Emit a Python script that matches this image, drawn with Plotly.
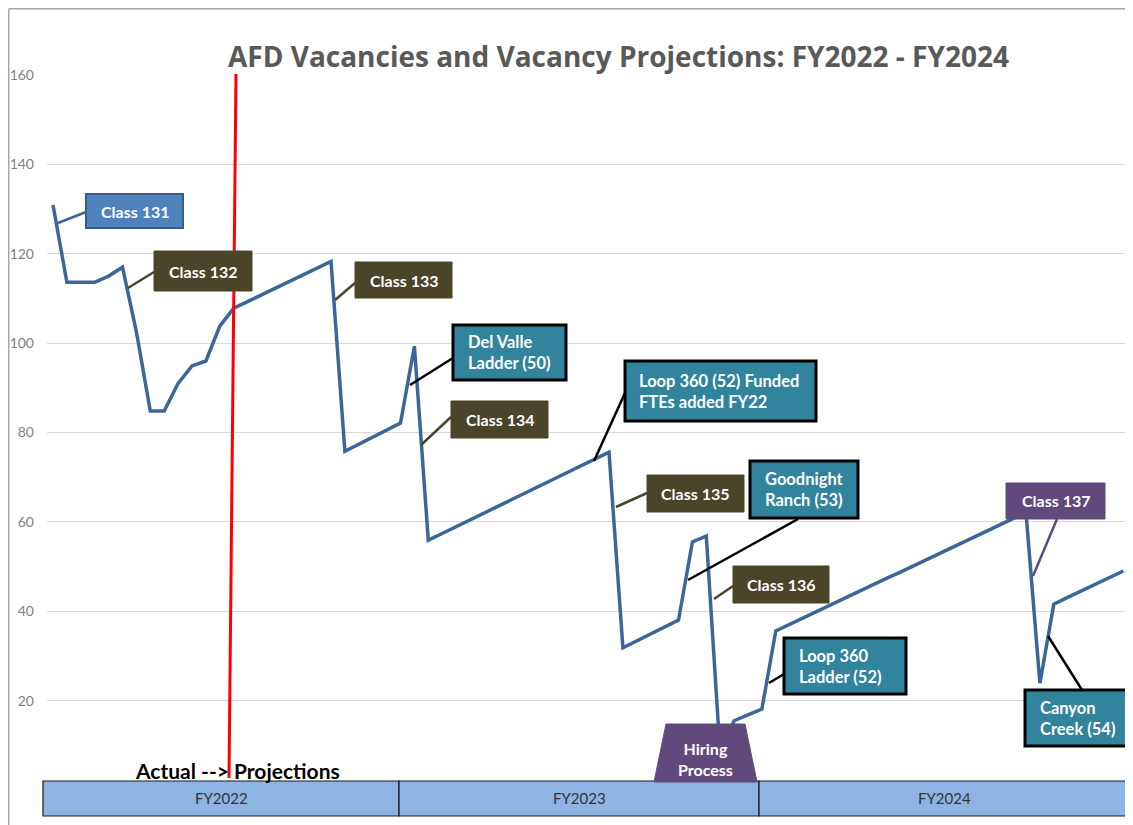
import plotly.graph_objects as go

# ---------------- data ----------------
pay_period = list(range(78))  # bi-weekly pay periods FY2022..FY2024
vacancies = [130.9, 113.6, 113.6, 113.6, 115.0, 117.0, 102.5, 84.8, 84.8, 91.0,
             94.9, 96.0, 103.8, 107.8, 109.3, 110.8, 112.3, 113.8, 115.3, 116.8,
             118.3, 75.8, 77.4, 79.0, 80.5, 82.1, 99.3, 55.9, 57.4, 58.9,
             60.4, 62.0, 63.5, 65.0, 66.5, 68.0, 69.5, 71.0, 72.6, 74.1,
             75.6, 31.8, 33.3, 34.9, 36.4, 38.0, 55.5, 56.8, 8.0, 15.5,
             16.8, 18.1, 35.6, 37.1, 38.5, 40.0, 41.5, 42.9, 44.4, 45.9,
             47.4, 48.8, 50.3, 51.8, 53.2, 54.7, 56.2, 57.7, 59.1, 60.6,
             62.1, 23.9, 41.6, 43.1, 44.6, 46.0, 47.5, 49.0]
fiscal_years = ["FY2022", "FY2023", "FY2024"]
y_ticks = [20, 40, 60, 80, 100, 120, 140, 160]
title_text = "AFD Vacancies and Vacancy Projections: FY2022 - FY2024"

# ---------------- layout geometry (page pixels) ----------------
OFF = 8                      # default page body margin
W, H = 1133 - OFF, 825 - OFF
PL, PR, PT, PB = 47, 1130, 75, 790
X0PX, XSTEP = 53, 13.9


def px(x):
    return (x - PL) / (PR - PL)


def py(y):
    return (PB - y) / (PB - PT)


LINE = "#3C6699"
OLIVE = "#4A4429"
TEAL = "#31849B"
PURPLE = "#604A7B"
BLUE = "#4F81BD"
FONT = "Lato"

fig = go.Figure()
fig.add_trace(go.Scatter(x=pay_period, y=vacancies, mode="lines",
                         line=dict(color=LINE, width=3.5), hoverinfo="skip",
                         showlegend=False))

shapes = []
annotations = []

# chart frame
shapes.append(dict(type="line", xref="paper", yref="paper", x0=px(8.7), y0=py(8.7), x1=px(8.7), y1=py(830),
                   line=dict(color="#A6A6A6", width=1.5)))
shapes.append(dict(type="line", xref="paper", yref="paper", x0=px(8.7), y0=py(8.7), x1=px(1140), y1=py(8.7),
                   line=dict(color="#A6A6A6", width=1.5)))

# red actual/projection divider
shapes.append(dict(type="line", xref="paper", yref="paper", x0=px(236), y0=py(74), x1=px(229), y1=py(778),
                   line=dict(color="#FF0000", width=3)))

# callouts: text, box (x0,y0,x1,y1), fill, border colour, border width, align, text x, connector, connector colour
callouts = [
    ("Class 131", (86, 194, 183, 228), BLUE, "#385D8A", 2, "center", None, ((58, 223), (86, 212)), LINE),
    ("Class 132", (154, 251, 252, 291), OLIVE, OLIVE, 1, "center", None, ((128, 288), (154, 272)), OLIVE),
    ("Class 133", (355, 262, 452, 298), OLIVE, OLIVE, 1, "center", None, ((335, 300), (355, 283)), OLIVE),
    ("Del Valle<br>Ladder (50)", (453, 325, 566, 380), TEAL, "#000000", 3, "left", 466, ((410, 385), (453, 358)), "#000000"),
    ("Class 134", (451, 401, 548, 438), OLIVE, OLIVE, 1, "center", None, ((421, 445), (451, 417)), OLIVE),
    ("Loop 360 (52) Funded<br>FTEs added FY22", (625, 361, 816, 421), TEAL, "#000000", 3, "left", 637, ((594, 461), (625, 393)), "#000000"),
    ("Class 135", (647, 475, 744, 512), OLIVE, OLIVE, 1, "center", None, ((616, 507), (647, 493)), OLIVE),
    ("Goodnight<br>Ranch (53)", (750, 461, 858, 518), TEAL, "#000000", 3, "left", 763, ((688, 580), (798, 519)), "#000000"),
    ("Class 136", (733, 566, 829, 603), OLIVE, OLIVE, 1, "center", None, ((714, 599), (733, 586)), OLIVE),
    ("Loop 360<br>Ladder (52)", (784, 638, 906, 694), TEAL, "#000000", 3, "left", 797, ((769, 683), (784, 674)), "#000000"),
    ("Class 137", (1006, 483, 1105, 519), PURPLE, PURPLE, 1, "center", None, ((1033, 576), (1057, 519)), PURPLE),
    ("Canyon<br>Creek (54)", (1025, 690, 1131, 746), TEAL, "#000000", 3, "left", 1038, ((1048, 636), (1082, 690)), "#000000"),
]

# connectors first (so boxes cover their ends)
for c in callouts:
    (a, b) = c[7]
    shapes.append(dict(type="line", xref="paper", yref="paper", x0=px(a[0]), y0=py(a[1]),
                       x1=px(b[0]), y1=py(b[1]), line=dict(color=c[8], width=2.5)))

for text, (x0, y0, x1, y1), fill, bcol, bw, align, tx, conn, ccol in callouts:
    shapes.append(dict(type="rect", xref="paper", yref="paper", x0=px(x0), y0=py(y0), x1=px(x1), y1=py(y1),
                       fillcolor=fill, line=dict(color=bcol, width=bw)))
    if align == "center":
        annotations.append(dict(text=text, xref="paper", yref="paper", x=px((x0 + x1) / 2), y=py((y0 + y1) / 2),
                                xanchor="center", yanchor="middle", showarrow=False,
                                font=dict(family=FONT, size=16, color="white", weight="bold")))
    else:
        annotations.append(dict(text=text, xref="paper", yref="paper", x=px(tx), y=py((y0 + y1) / 2),
                                xanchor="left", yanchor="middle", align="left", showarrow=False,
                                font=dict(family=FONT, size=16.5, color="white", weight="bold")))

# fiscal year band
band_edges = [43, 399, 759, 1129]
for i, fy in enumerate(fiscal_years):
    shapes.append(dict(type="rect", xref="paper", yref="paper", x0=px(band_edges[i]), y0=py(781),
                       x1=px(band_edges[i + 1]), y1=py(816), fillcolor="#8EB4E3",
                       line=dict(color="#1a1a1a", width=1.2)))
    annotations.append(dict(text=fy, xref="paper", yref="paper",
                            x=px((band_edges[i] + band_edges[i + 1]) / 2), y=py(798.5),
                            xanchor="center", yanchor="middle", showarrow=False,
                            font=dict(family=FONT, size=15, color="#333333")))

# hiring process trapezoid
path = "M {} {} L {} {} L {} {} L {} {} Z".format(px(654), py(782), px(666), py(724),
                                                  px(745), py(724), px(757), py(782))
shapes.append(dict(type="path", xref="paper", yref="paper", path=path, fillcolor=PURPLE,
                   line=dict(color=PURPLE, width=1)))
annotations.append(dict(text="Hiring<br>Process", xref="paper", yref="paper", x=px(705), y=py(759),
                        xanchor="center", yanchor="middle", showarrow=False,
                        font=dict(family=FONT, size=16, color="white", weight="bold")))

# actual --> projections label
annotations.append(dict(text="Actual --> Projections", xref="paper", yref="paper", x=px(237), y=py(770),
                        xanchor="center", yanchor="middle", showarrow=False,
                        font=dict(family=FONT, size=21, color="#000000", weight="bold")))

# title
annotations.append(dict(text=title_text, xref="paper", yref="paper", x=px(618), y=py(56),
                        xanchor="center", yanchor="middle", showarrow=False,
                        font=dict(family="Open Sans", size=28, color="#595959", weight="bold")))

fig.update_layout(
    width=W, height=H,
    margin=dict(l=PL - OFF, r=(OFF + W) - PR, t=PT - OFF, b=(OFF + H) - PB, pad=0),
    paper_bgcolor="white", plot_bgcolor="white",
    showlegend=False,
    shapes=shapes, annotations=annotations,
    xaxis=dict(range=[(PL - X0PX) / XSTEP, (PR - X0PX) / XSTEP], showgrid=False, zeroline=False,
               showticklabels=False, ticks="", showline=False, fixedrange=True),
    yaxis=dict(range=[0, 160], tickvals=y_ticks, showgrid=True, gridcolor="#D9D9D9", gridwidth=1,
               zeroline=False, showline=False, ticks="", ticklabelstandoff=12,
               tickfont=dict(family=FONT, size=14, color="#7F7F7F"), fixedrange=True),
)

fig.write_html("out.html")
